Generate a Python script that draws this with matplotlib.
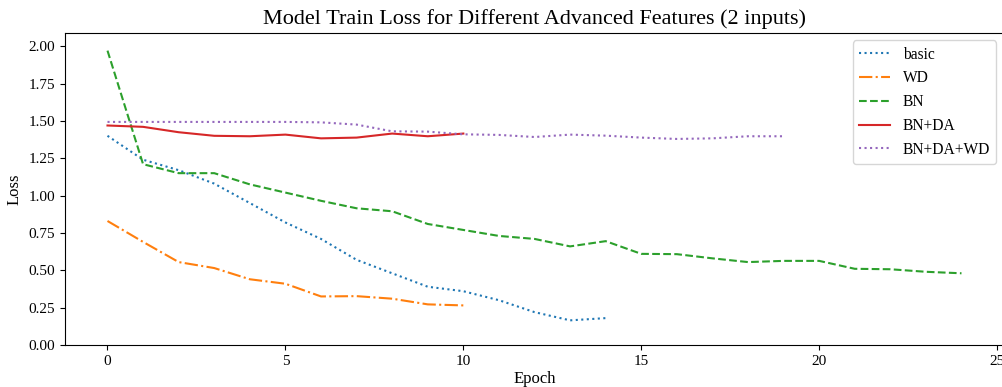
import matplotlib.pyplot as plt
import numpy as np

plt.rcParams['font.family'] = ['Liberation Serif', 'DejaVu Serif']

# значения потерь по эпохам
basic = [1.40, 1.24, 1.17, 1.08, 0.95, 0.82, 0.71, 0.57, 0.48, 0.39, 0.36, 0.30, 0.22, 0.165, 0.18]
wd = [0.83, 0.69, 0.555, 0.515, 0.44, 0.41, 0.325, 0.327, 0.31, 0.272, 0.265]
bn = [1.97, 1.21, 1.15, 1.15, 1.075, 1.02, 0.965, 0.915, 0.895, 0.81, 0.77, 0.73, 0.71,
      0.66, 0.695, 0.61, 0.608, 0.58, 0.555, 0.563, 0.563, 0.51, 0.507, 0.49, 0.48]
bn_da = [1.469, 1.46, 1.424, 1.40, 1.397, 1.408, 1.383, 1.388, 1.415, 1.397, 1.415]
bn_da_wd = [1.493, 1.493, 1.493, 1.493, 1.493, 1.493, 1.49, 1.475, 1.43, 1.428, 1.41,
            1.406, 1.392, 1.408, 1.401, 1.388, 1.379, 1.383, 1.397, 1.397]

fig = plt.figure(figsize=(10.03, 3.87), dpi=100)
ax = fig.add_axes([0.0646, 0.1085, 0.9366, 0.807])

ax.plot(np.arange(len(basic)), basic, linestyle=':', label='basic')
ax.plot(np.arange(len(wd)), wd, linestyle='-.', label='WD')
ax.plot(np.arange(len(bn)), bn, linestyle='--', label='BN')
ax.plot(np.arange(len(bn_da)), bn_da, linestyle='-', color='tab:red', label='BN+DA')
ax.plot(np.arange(len(bn_da_wd)), bn_da_wd, linestyle=':', color='tab:purple', label='BN+DA+WD')

ax.set_ylim(0, 2.09)
ax.set_xticks([0, 5, 10, 15, 20, 25])
ax.tick_params(labelsize=11)
ax.set_title('Model Train Loss for Different Advanced Features (2 inputs)', fontsize=16)
ax.set_xlabel('Epoch', fontsize=12, labelpad=2)
ax.set_ylabel('Loss', fontsize=12)
ax.legend(loc='upper right', fontsize=11.2)

fig.savefig('out.png', dpi=100)
